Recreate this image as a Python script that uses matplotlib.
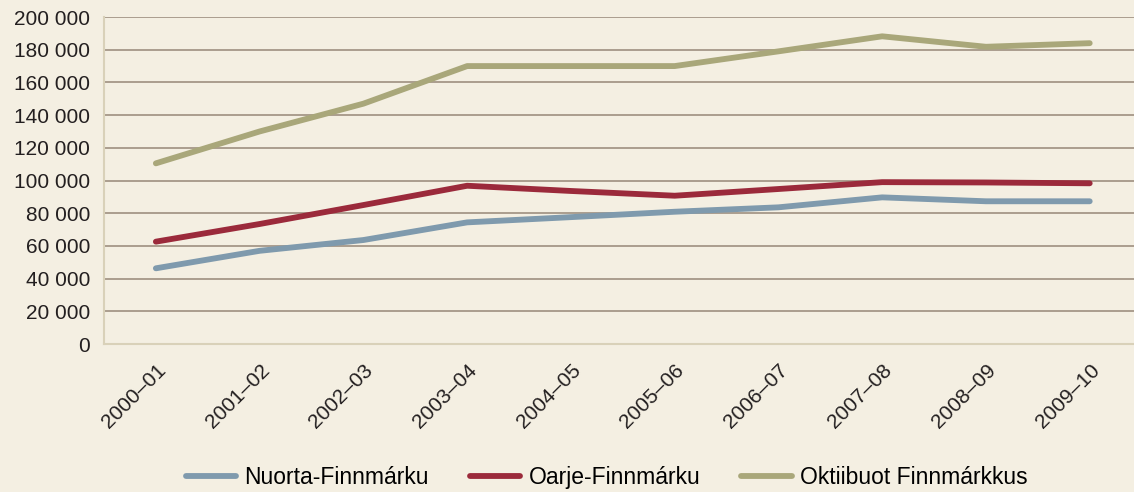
import matplotlib.pyplot as plt
from matplotlib.ticker import FuncFormatter

years = ["2000–01", "2001–02", "2002–03", "2003–04", "2004–05",
         "2005–06", "2006–07", "2007–08", "2008–09", "2009–10"]
nuorta = [46300, 57000, 63600, 74400, 77600, 80900, 83600, 89700, 87300, 87300]
oarje = [62600, 73400, 85000, 96800, 93600, 90700, 94800, 99000, 98800, 98300]
oktii = [110500, 130000, 147000, 170000, 170000, 170000, 179000, 188200, 181800, 184000]

bg = "#f4efe2"
plt.rcParams["font.family"] = ["Liberation Sans", "DejaVu Sans"]

fig = plt.figure(figsize=(11.34, 4.92), dpi=100, facecolor=bg)
ax = fig.add_axes([0.0917, 0.3008, 0.915, 0.6646], facecolor=bg)

x = range(len(years))
ax.plot(x, nuorta, color="#7f9aad", lw=4.2, solid_capstyle="round", label="Nuorta-Finnmárku")
ax.plot(x, oarje, color="#9b2a3b", lw=4.2, solid_capstyle="round", label="Oarje-Finnmárku")
ax.plot(x, oktii, color="#a9a77a", lw=4.2, solid_capstyle="round", label="Oktiibuot Finnmárkkus")

ax.set_ylim(0, 200000)
ax.set_yticks(range(0, 200001, 20000))
ax.yaxis.set_major_formatter(FuncFormatter(lambda v, p: f"{int(v):,}".replace(",", " ")))
ax.set_xlim(-0.5, len(years) - 0.5)
ax.set_xticks(list(x))
ax.set_xticklabels(years, rotation=45, ha="right", rotation_mode="anchor")
ax.tick_params(axis="both", length=0, labelsize=15, colors="#231f20")
ax.tick_params(axis="x", pad=12)
ax.tick_params(axis="y", pad=10)

ax.grid(axis="y", color="#9e9080", lw=1.2)
ax.set_axisbelow(True)
for s in ["top", "right"]:
    ax.spines[s].set_visible(False)
ax.spines["left"].set_color("#d9d1b9")
ax.spines["bottom"].set_color("#d9d1b9")
ax.spines["left"].set_linewidth(1.5)
ax.spines["bottom"].set_linewidth(1.5)

fig.legend(loc="center", bbox_to_anchor=(0.535, 0.03), ncol=3, frameon=False,
           fontsize=16.5, handlelength=2.2, handletextpad=0.35, columnspacing=1.8)

plt.savefig("out.png", facecolor=bg)
